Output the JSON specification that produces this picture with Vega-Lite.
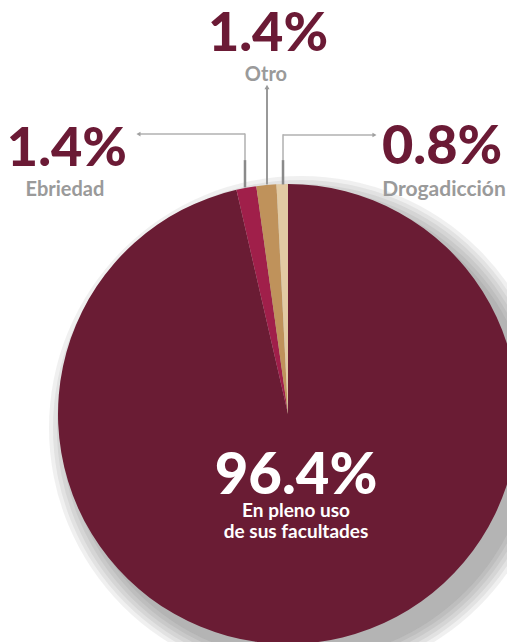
{
  "$schema": "https://vega.github.io/schema/vega-lite/v6.json",
  "width": 507,
  "height": 642,
  "autosize": {"type": "none"},
  "padding": 0,
  "background": "white",
  "config": {"view": {"stroke": null}, "text": {"font": "Lato"}},
  "layer": [
    {
      "data": {"values": [{}]},
      "mark": {"type": "arc", "theta": 0, "theta2": 6.2832, "outerRadius": 252, "color": "#444444", "opacity": 0.08, "stroke": null},
      "encoding": {
        "x": {"datum": 5.65, "type": "quantitative", "scale": {"domain": [-125.2, 95.2], "nice": false, "zero": false}, "axis": null},
        "y": {"datum": -6.09, "type": "quantitative", "scale": {"domain": [-99.13, 180], "nice": false, "zero": false}, "axis": null}
      }
    },
    {
      "data": {"values": [{}]},
      "mark": {"type": "arc", "theta": 0, "theta2": 6.2832, "outerRadius": 248, "color": "#444444", "opacity": 0.08, "stroke": null},
      "encoding": {"x": {"datum": 5.65, "type": "quantitative"}, "y": {"datum": -6.09, "type": "quantitative"}}
    },
    {
      "data": {"values": [{}]},
      "mark": {"type": "arc", "theta": 0, "theta2": 6.2832, "outerRadius": 244, "color": "#444444", "opacity": 0.08, "stroke": null},
      "encoding": {"x": {"datum": 5.65, "type": "quantitative"}, "y": {"datum": -6.09, "type": "quantitative"}}
    },
    {
      "data": {"values": [{}]},
      "mark": {"type": "arc", "theta": 0, "theta2": 6.2832, "outerRadius": 240, "color": "#444444", "opacity": 0.08, "stroke": null},
      "encoding": {"x": {"datum": 5.65, "type": "quantitative"}, "y": {"datum": -6.09, "type": "quantitative"}}
    },
    {
      "data": {"values": [{}]},
      "mark": {"type": "arc", "theta": 0, "theta2": 6.2832, "outerRadius": 236, "color": "#444444", "opacity": 0.08, "stroke": null},
      "encoding": {"x": {"datum": 5.65, "type": "quantitative"}, "y": {"datum": -6.09, "type": "quantitative"}}
    },
    {
      "data": {"values": [{}]},
      "mark": {"type": "arc", "theta": 0, "theta2": 6.2832, "outerRadius": 232, "color": "#444444", "opacity": 0.08, "stroke": null},
      "encoding": {"x": {"datum": 5.65, "type": "quantitative"}, "y": {"datum": -6.09, "type": "quantitative"}}
    },
    {
      "data": {"values": [
        {"categoria": "En pleno uso de sus facultades", "porcentaje": 96.4, "orden": 1},
        {"categoria": "Ebriedad", "porcentaje": 1.4, "orden": 2},
        {"categoria": "Otro", "porcentaje": 1.4, "orden": 3},
        {"categoria": "Drogadicción", "porcentaje": 0.8, "orden": 4}
      ]},
      "mark": {"type": "arc", "outerRadius": 230, "stroke": null},
      "encoding": {
        "x": {"datum": 0, "type": "quantitative"},
        "y": {"datum": 0, "type": "quantitative"},
        "theta": {"field": "porcentaje", "type": "quantitative", "stack": true},
        "order": {"field": "orden", "type": "quantitative", "sort": "ascending"},
        "color": {"field": "categoria", "type": "nominal", "legend": null,
          "scale": {"domain": ["En pleno uso de sus facultades", "Ebriedad", "Otro", "Drogadicción"], "range": ["#6a1c34", "#a01f4a", "#bf925b", "#e2caa3"]}}
      }
    },
    {
      "data": {"values": [{}]},
      "mark": {"type": "rule", "color": "#b0b0b0", "strokeWidth": 1.5},
      "encoding": {"x": {"datum": -64.3, "type": "quantitative"}, "x2": {"datum": -18.7}, "y": {"datum": 121.7, "type": "quantitative"}, "y2": {"datum": 121.7}}
    },
    {
      "data": {"values": [{}]},
      "mark": {"type": "rule", "color": "#b0b0b0", "strokeWidth": 1.5},
      "encoding": {"x": {"datum": -18.7, "type": "quantitative"}, "x2": {"datum": -18.7}, "y": {"datum": 122.0, "type": "quantitative"}, "y2": {"datum": 110.4}}
    },
    {
      "data": {"values": [{}]},
      "mark": {"type": "rule", "color": "#8a8a8a", "strokeWidth": 2.5},
      "encoding": {"x": {"datum": -18.7, "type": "quantitative"}, "x2": {"datum": -18.7}, "y": {"datum": 110.4, "type": "quantitative"}, "y2": {"datum": 98.5}}
    },
    {
      "data": {"values": [{}]},
      "mark": {"type": "rule", "color": "#999999", "strokeWidth": 2},
      "encoding": {"x": {"datum": -9.13, "type": "quantitative"}, "x2": {"datum": -9.13}, "y": {"datum": 141.7, "type": "quantitative"}, "y2": {"datum": 99.8}}
    },
    {
      "data": {"values": [{}]},
      "mark": {"type": "rule", "color": "#b0b0b0", "strokeWidth": 1.5},
      "encoding": {"x": {"datum": -2.17, "type": "quantitative"}, "x2": {"datum": 37.0}, "y": {"datum": 121.3, "type": "quantitative"}, "y2": {"datum": 121.3}}
    },
    {
      "data": {"values": [{}]},
      "mark": {"type": "rule", "color": "#b0b0b0", "strokeWidth": 1.5},
      "encoding": {"x": {"datum": -2.17, "type": "quantitative"}, "x2": {"datum": -2.17}, "y": {"datum": 121.6, "type": "quantitative"}, "y2": {"datum": 110.4}}
    },
    {
      "data": {"values": [{}]},
      "mark": {"type": "rule", "color": "#8a8a8a", "strokeWidth": 2.5},
      "encoding": {"x": {"datum": -2.17, "type": "quantitative"}, "x2": {"datum": -2.17}, "y": {"datum": 110.4, "type": "quantitative"}, "y2": {"datum": 99.8}}
    },
    {
      "data": {"values": [{}]},
      "mark": {"type": "point", "shape": "triangle-left", "filled": true, "color": "#a0a0a0", "size": 22, "opacity": 1},
      "encoding": {"x": {"datum": -65.0, "type": "quantitative"}, "y": {"datum": 121.7, "type": "quantitative"}}
    },
    {
      "data": {"values": [{}]},
      "mark": {"type": "point", "shape": "triangle-right", "filled": true, "color": "#a0a0a0", "size": 22, "opacity": 1},
      "encoding": {"x": {"datum": 37.6, "type": "quantitative"}, "y": {"datum": 121.3, "type": "quantitative"}}
    },
    {
      "data": {"values": [{}]},
      "mark": {"type": "point", "shape": "triangle-up", "filled": true, "color": "#999999", "size": 26, "opacity": 1},
      "encoding": {"x": {"datum": -9.13, "type": "quantitative"}, "y": {"datum": 142.2, "type": "quantitative"}}
    },
    {
      "data": {"values": [{"t": "1.4%"}]},
      "mark": {"type": "text", "font": "Lato", "fontWeight": 900, "fontSize": 54, "color": "#6b1a35", "align": "center", "baseline": "alphabetic"},
      "encoding": {"x": {"datum": -8.7, "type": "quantitative"}, "y": {"datum": 157.8, "type": "quantitative"}, "text": {"field": "t"}}
    },
    {
      "data": {"values": [{"t": "Otro"}]},
      "mark": {"type": "text", "font": "Lato", "fontWeight": "bold", "fontSize": 20, "color": "#9a9a9a", "align": "center", "baseline": "alphabetic"},
      "encoding": {"x": {"datum": -9.6, "type": "quantitative"}, "y": {"datum": 145.0, "type": "quantitative"}, "text": {"field": "t"}}
    },
    {
      "data": {"values": [{"t": "1.4%"}]},
      "mark": {"type": "text", "font": "Lato", "fontWeight": 900, "fontSize": 54, "color": "#6b1a35", "align": "center", "baseline": "alphabetic"},
      "encoding": {"x": {"datum": -96.1, "type": "quantitative"}, "y": {"datum": 107.8, "type": "quantitative"}, "text": {"field": "t"}}
    },
    {
      "data": {"values": [{"t": "Ebriedad"}]},
      "mark": {"type": "text", "font": "Lato", "fontWeight": "bold", "fontSize": 20, "color": "#9a9a9a", "align": "center", "baseline": "alphabetic"},
      "encoding": {"x": {"datum": -97.0, "type": "quantitative"}, "y": {"datum": 95.0, "type": "quantitative"}, "text": {"field": "t"}}
    },
    {
      "data": {"values": [{"t": "0.8%"}]},
      "mark": {"type": "text", "font": "Lato", "fontWeight": 900, "fontSize": 54, "color": "#6b1a35", "align": "center", "baseline": "alphabetic"},
      "encoding": {"x": {"datum": 67.0, "type": "quantitative"}, "y": {"datum": 108.6, "type": "quantitative"}, "text": {"field": "t"}}
    },
    {
      "data": {"values": [{"t": "Drogadicción"}]},
      "mark": {"type": "text", "font": "Lato", "fontWeight": "bold", "fontSize": 21, "color": "#9a9a9a", "align": "center", "baseline": "alphabetic"},
      "encoding": {"x": {"datum": 67.8, "type": "quantitative"}, "y": {"datum": 95.0, "type": "quantitative"}, "text": {"field": "t"}}
    },
    {
      "data": {"values": [{"t": "96.4%"}]},
      "mark": {"type": "text", "font": "Lato", "fontWeight": 900, "fontSize": 58, "color": "white", "align": "center", "baseline": "alphabetic"},
      "encoding": {"x": {"datum": 3.5, "type": "quantitative"}, "y": {"datum": -34.8, "type": "quantitative"}, "text": {"field": "t"}}
    },
    {
      "data": {"values": [{"t": "En pleno uso\nde sus facultades"}]},
      "mark": {"type": "text", "font": "Lato", "fontWeight": "bold", "fontSize": 19, "color": "white", "align": "center", "baseline": "alphabetic", "lineBreak": "\n", "lineHeight": 21},
      "encoding": {"x": {"datum": 3.5, "type": "quantitative"}, "y": {"datum": -44.6, "type": "quantitative"}, "text": {"field": "t"}}
    }
  ]
}
